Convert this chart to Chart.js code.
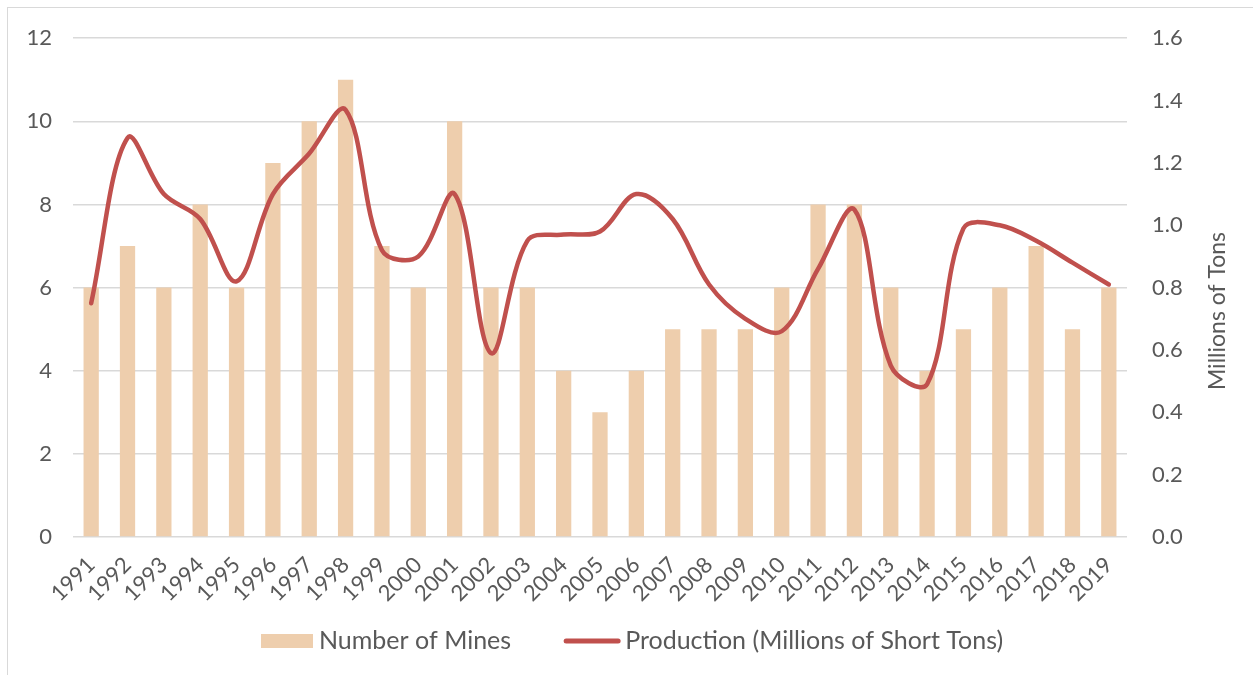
<!DOCTYPE html>
<html>
<head>
<meta charset="utf-8">
<script src="https://cdn.jsdelivr.net/npm/chart.js@4.4.0/dist/chart.umd.min.js"></script>
<style>
  html, body { margin: 0; padding: 0; background: #fff; overflow: hidden; }
  #frame { position: absolute; left: 7px; top: 7px; width: 1300px; height: 720px; border: 1px solid #d9d9d9; }
  #wrap { position: absolute; left: 0; top: 0; width: 1253px; height: 675px; }
</style>
</head>
<body>
<div id="frame"></div>
<div id="wrap"><canvas id="minesChart"></canvas></div>
<script>
// data
var years = [ "1991", "1992", "1993", "1994", "1995", "1996", "1997", "1998", "1999", "2000",
        "2001", "2002", "2003", "2004", "2005", "2006", "2007", "2008", "2009", "2010",
        "2011", "2012", "2013", "2014", "2015", "2016", "2017", "2018", "2019" ];
var mineCounts = [ 6, 7, 6, 8, 6, 9, 10, 11, 7, 6,
        10, 6, 6, 4, 3, 4, 5, 5, 5, 6,
        8, 8, 6, 4, 5, 6, 7, 5, 6 ];
var production = [ 0.75, 1.28, 1.10, 1.02, 0.82, 1.10, 1.23, 1.37, 0.92, 0.90,
        1.10, 0.59, 0.95, 0.97, 0.98, 1.10, 1.02, 0.81, 0.70, 0.66,
        0.86, 1.05, 0.55, 0.49, 0.99, 1.00, 0.95, 0.88, 0.81 ];
var minesLabel = "Number of Mines";
var productionLabel = "Production (Millions of Short Tons)";
var rightAxisTitle = "Millions of Tons";

var textGrey = '#595959';
var barColour = '#EECEAD';
var lineColour = '#C0504D';
var fontFamily = 'Lato, "Open Sans", sans-serif';

// right axis title reads bottom-to-top, and the legend is laid out like Excel's,
// so both are drawn by hand
var extras = {
        id: 'extras',
        afterDraw: function( chart )
        {
                var ctx = chart.ctx;
                ctx.save();
                ctx.translate( 1218, 311 );
                ctx.rotate( -Math.PI / 2 );
                ctx.font = '23px ' + fontFamily;
                ctx.fillStyle = textGrey;
                ctx.textAlign = 'center';
                ctx.textBaseline = 'middle';
                ctx.fillText( rightAxisTitle, 0, 0 );
                ctx.restore();

                // legend
                var ly = 641;
                var x = 261;
                ctx.save();
                ctx.font = '25px ' + fontFamily;
                ctx.textBaseline = 'middle';
                ctx.fillStyle = barColour;
                ctx.fillRect( x, ly - 7, 52, 14 );
                x += 52 + 6;
                ctx.fillStyle = textGrey;
                ctx.fillText( minesLabel, x, ly );
                x += ctx.measureText( minesLabel ).width + 52;
                ctx.strokeStyle = lineColour;
                ctx.lineWidth = 5;
                ctx.lineCap = 'round';
                ctx.beginPath();
                ctx.moveTo( x + 3, ly );
                ctx.lineTo( x + 55, ly );
                ctx.stroke();
                x += 58 + 4;
                ctx.fillText( productionLabel, x, ly );
                ctx.restore();
        }
};

var ctxM=document.getElementById( "minesChart" ).getContext( '2d' );
var minesChart=new Chart( ctxM, {
        type: 'bar',
        plugins: [ extras ],
        data: {
                labels: years,
                datasets: [ {
                        type: 'bar',
                        label: minesLabel,
                        data: mineCounts,
                        backgroundColor: barColour,
                        borderWidth: 0,
                        categoryPercentage: 1,
                        barPercentage: 0.42,
                        yAxisID: 'y',
                        order: 1
                },
                {
                        type: 'line',
                        label: productionLabel,
                        data: production,
                        borderColor: lineColour,
                        backgroundColor: lineColour,
                        borderWidth: 4.5,
                        borderCapStyle: 'round',
                        tension: 0.35,
                        pointRadius: 0,
                        yAxisID: 'y1',
                        order: 0
                } ]
        },
        options: {
                responsive: true,
                maintainAspectRatio: false,
                animation: false,
                layout: {
                        padding: { top: 25, bottom: 60, left: 0, right: 0 }
                },
                plugins: {
                        tooltip: { enabled: false },
                        legend: { display: false }
                },
                scales: {
                        x: {
                                grid: { display: false },
                                border: { display: false },
                                ticks: {
                                        color: textGrey,
                                        font: { family: fontFamily, size: 22 },
                                        autoSkip: false,
                                        minRotation: 45,
                                        maxRotation: 45,
                                        padding: 7
                                },
                                afterFit: function( scale ) { scale.height = 78; }
                        },
                        y: {
                                position: 'left',
                                min: 0,
                                max: 12,
                                grid: { color: '#d9d9d9', lineWidth: 1.5, drawTicks: false },
                                border: { display: false },
                                ticks: {
                                        stepSize: 2,
                                        padding: 21,
                                        color: textGrey,
                                        font: { family: fontFamily, size: 22 }
                                },
                                afterFit: function( scale ) { scale.width = 73; }
                        },
                        y1: {
                                position: 'right',
                                min: 0,
                                max: 1.6,
                                grid: { drawOnChartArea: false, drawTicks: false },
                                border: { display: false },
                                ticks: {
                                        stepSize: 0.2,
                                        padding: 25,
                                        color: textGrey,
                                        font: { family: fontFamily, size: 22 },
                                        callback: ( v ) => v.toFixed( 1 )
                                },
                                afterFit: function( scale ) { scale.width = 126; }
                        }
                }
        }
} );
</script>
</body>
</html>
